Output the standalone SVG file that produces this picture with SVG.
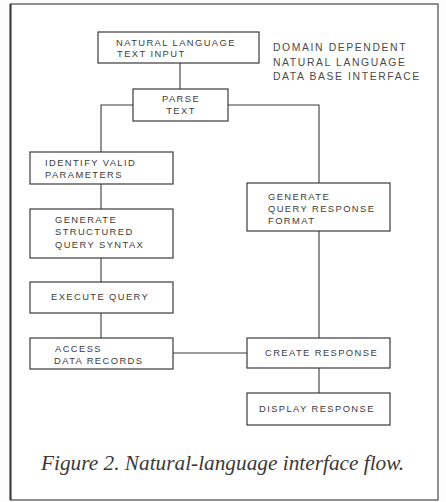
<svg xmlns="http://www.w3.org/2000/svg" width="446" height="502" viewBox="0 0 446 502">
  <style>
    .box { fill: #ffffff; stroke: #3a3a3a; stroke-width: 1.2; }
    .wire { fill: none; stroke: #3a3a3a; stroke-width: 1.1; }
    .lbl { font-family: "Liberation Sans", Arial, sans-serif; font-size: 9.4px; letter-spacing: 1.4px; fill: #3c3c3c; }
    .side { font-family: "Liberation Sans", Arial, sans-serif; font-size: 10.4px; letter-spacing: 1.6px; fill: #4a4a4a; }
    .cap { font-family: "Liberation Serif", "Times New Roman", serif; font-style: italic; font-size: 21.3px; fill: #3a3a3a; }
  </style>

  <!-- page background and frame -->
  <rect x="0" y="0" width="446" height="502" fill="#fdfdfd"/>
  <rect x="10.5" y="4" width="427.5" height="496" fill="#ffffff" stroke="#555555" stroke-width="1.3"/>
  <line x1="10.5" y1="4" x2="10.5" y2="500" stroke="#3a3a3a" stroke-width="2"/>

  <!-- connectors -->
  <g id="connectors">
    <line class="wire" x1="180" y1="63" x2="180" y2="89"/>
    <polyline class="wire" points="133,105 101,105 101,152"/>
    <line class="wire" x1="101" y1="184" x2="101" y2="209"/>
    <line class="wire" x1="101" y1="258" x2="101" y2="282"/>
    <line class="wire" x1="101" y1="313" x2="101" y2="338"/>
    <polyline class="wire" points="228,105 319,105 319,183"/>
    <line class="wire" x1="319" y1="231" x2="319" y2="338"/>
    <line class="wire" x1="173" y1="353" x2="247" y2="353"/>
    <line class="wire" x1="319" y1="368" x2="319" y2="393"/>
  </g>

  <g id="text-input">
    <rect class="box" x="98" y="32" width="161" height="31"/>
    <text class="lbl" x="116" y="45.5">NATURAL LANGUAGE</text>
    <text class="lbl" x="117" y="57">TEXT INPUT</text>
  </g>

  <g id="title">
    <text class="side" x="273" y="51">DOMAIN DEPENDENT</text>
    <text class="side" x="273" y="66">NATURAL LANGUAGE</text>
    <text class="side" x="273" y="80">DATA BASE INTERFACE</text>
  </g>

  <g id="parse-text">
    <rect class="box" x="133" y="89" width="95" height="32"/>
    <text class="lbl" x="181" y="102" text-anchor="middle">PARSE</text>
    <text class="lbl" x="181" y="114" text-anchor="middle">TEXT</text>
  </g>

  <g id="identify">
    <rect class="box" x="30" y="152" width="143" height="32"/>
    <text class="lbl" x="45" y="166">IDENTIFY VALID</text>
    <text class="lbl" x="45" y="178">PARAMETERS</text>
  </g>

  <g id="generate-syntax">
    <rect class="box" x="30" y="209" width="143" height="49"/>
    <text class="lbl" x="55" y="223">GENERATE</text>
    <text class="lbl" x="55" y="235">STRUCTURED</text>
    <text class="lbl" x="55" y="248">QUERY SYNTAX</text>
  </g>

  <g id="execute">
    <rect class="box" x="30" y="282" width="143" height="31"/>
    <text class="lbl" x="51" y="300">EXECUTE QUERY</text>
  </g>

  <g id="access">
    <rect class="box" x="30" y="338" width="143" height="31"/>
    <text class="lbl" x="55" y="352">ACCESS</text>
    <text class="lbl" x="54" y="364">DATA RECORDS</text>
  </g>

  <g id="generate-format">
    <rect class="box" x="247" y="183" width="143" height="48"/>
    <text class="lbl" x="268" y="200">GENERATE</text>
    <text class="lbl" x="268" y="212">QUERY RESPONSE</text>
    <text class="lbl" x="268" y="224">FORMAT</text>
  </g>

  <g id="create">
    <rect class="box" x="247" y="338" width="143" height="30"/>
    <text class="lbl" x="265" y="356">CREATE RESPONSE</text>
  </g>

  <g id="display">
    <rect class="box" x="247" y="393" width="143" height="32"/>
    <text class="lbl" x="259" y="412">DISPLAY RESPONSE</text>
  </g>

  <text class="cap" x="41" y="470">Figure 2. Natural-language interface flow.</text>
</svg>
